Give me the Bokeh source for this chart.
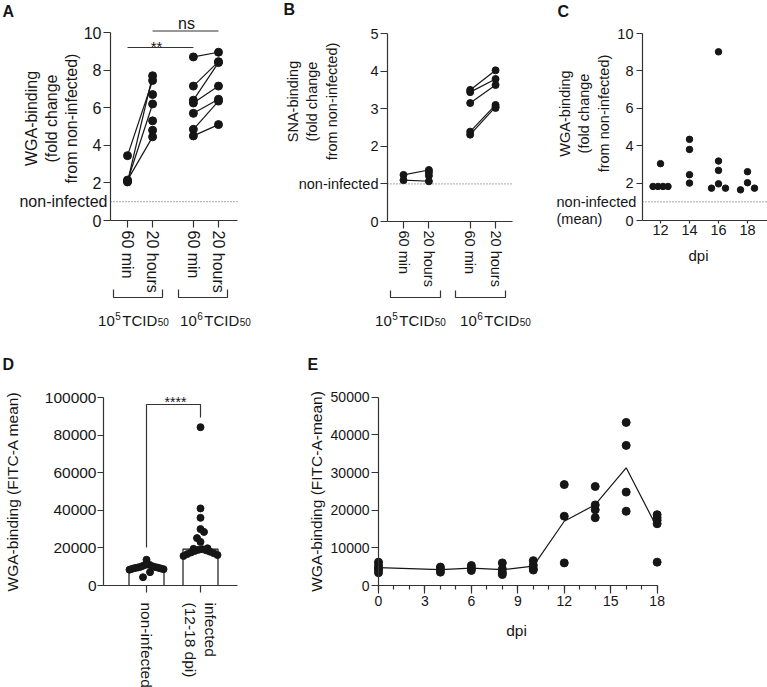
import numpy as np
from bokeh.plotting import figure
from bokeh.layouts import row, column
from bokeh.models import Range1d, Label, FixedTicker, SingleIntervalTicker, BasicTickFormatter
from bokeh.embed import file_html
from bokeh.resources import INLINE

FONT = "Liberation Sans"
INK = "#161616"
AXC = "#333333"
DOT = "#555555"

# ---------------- data ----------------
dose_exponents = ["5", "6"]                       # 10^5 and 10^6 TCID50
doses = [f"10^{e} TCID50" for e in dose_exponents]
times = ["60 min", "20 hours"]

# A: WGA-binding fold change (linked in order; extra values unpaired)
a_lo_60min = [3.45, 2.05, 2.10, 2.15]
a_lo_20h = [7.45, 7.70, 6.20, 4.45, 6.70, 5.30, 4.80]
a_hi_60min = [8.70, 7.15, 6.40, 6.25, 5.70, 4.85, 4.50]
a_hi_20h = [8.95, 8.45, 8.40, 7.15, 6.45, 6.35, 5.10]

# B: SNA-binding fold change
b_lo_60min = [1.24, 1.10]
b_lo_20h = [1.37, 1.07, 1.31, 1.22]
b_hi_60min = [3.50, 3.44, 3.15, 2.39, 2.31]
b_hi_20h = [4.02, 3.79, 3.63, 3.10, 3.05, 3.02]

# C: WGA-binding fold change by dpi
c_dpi = [12, 14, 16, 18]
c_12 = [1.82, 1.82, 1.82, 1.82, 3.04]
c_14 = [4.34, 3.80, 2.45, 2.00]
c_16 = [9.02, 3.18, 2.68, 1.96, 1.73, 1.73]
c_18 = [2.61, 2.02, 1.73, 1.64]

# D: FITC-A mean
d_groups = ["non-infected", "infected\n(12-18 dpi)"]
d_noninf = [13700, 12000, 11000, 10600, 10300, 10000, 9800, 9600, 9500, 9300,
            9100, 8900, 8700, 8400, 7100, 4400]
d_inf = [84200, 41000, 36000, 30000, 28500, 25200, 23200, 19800, 19500, 19300,
         19000, 18700, 18400, 18000, 17600, 17200, 16700, 16200, 15700]

# E: FITC-A mean by dpi
e_dpi = [0, 4, 6, 8, 10, 12, 14, 16, 18]
e_0 = [6200, 5300, 4600, 4200, 3400]
e_4 = [4900, 4250, 3550]
e_6 = [5300, 4600, 4000]
e_8 = [6000, 4400, 3500, 2900]
e_10 = [6600, 5400, 4500, 4100]
e_12 = [26800, 18400, 6000]
e_14 = [26300, 21400, 20100, 18000]
e_16 = [43300, 37200, 24800, 19700]
e_18 = [18800, 18000, 17300, 16400, 6200]

GROUP_GAP = 0.625   # extra space between the two dose groups (in category widths)

# Arial / Liberation Sans advance widths (1/1000 em) for composing sub/superscripts
ADV = {"0": 556, "1": 556, "5": 556, "6": 556, "T": 611, "C": 722, "I": 278, "D": 722}


def text_width(s, fs):
    return sum(ADV[c] for c in s) * fs / 1000.0


# ---------------- helpers ----------------
class Panel:
    """A figure whose frame covers its whole area; (ax, bx) and (cy, dy) map data to page pixels."""

    def __init__(self, X0, X1, Y0, Y1, ax, bx, cy, dy):
        self.ax, self.bx, self.cy, self.dy = ax, bx, cy, dy
        p = figure(width=int(round(X1 - X0)), height=int(round(Y1 - Y0)),
                   x_range=Range1d(self.fx(X0), self.fx(X1)),
                   y_range=Range1d(self.fy(Y1), self.fy(Y0)),
                   output_backend="svg", toolbar_location=None, title=None, min_border=0)
        p.outline_line_color = None
        p.xgrid.visible = False
        p.ygrid.visible = False
        p.border_fill_color = "white"
        p.background_fill_color = "white"
        self.p = p

    def fx(self, r):
        return (r - self.ax) / self.bx

    def fy(self, r):
        return (self.cy - r) / self.dy

    def text(self, rx, ry, text, fs, align="center", baseline="middle", bold=False, angle=0.0, y=None):
        self.p.add_layout(Label(x=self.fx(rx), y=self.fy(ry) if y is None else y, text=text,
                                text_font=FONT, text_font_size=f"{fs}px", text_color=INK,
                                text_align=align, text_baseline=baseline,
                                text_font_style="bold" if bold else "normal", angle=angle))

    def dose_label(self, cx, base, exp, fs=15, fs_small=10):
        w10, wsup = text_width("10", fs), text_width(exp, fs_small)
        wt, wsub = text_width("TCID", fs), text_width("50", fs_small)
        total = w10 + wsup + 2 + wt + 0.5 + wsub
        x = cx - total / 2
        self.text(x, base, "10", fs, align="left", baseline="alphabetic")
        self.text(x + w10 + 0.5, base - 5, exp, fs_small, align="left", baseline="alphabetic")
        x += w10 + wsup + 2
        self.text(x, base, "TCID", fs, align="left", baseline="alphabetic")
        self.text(x + wt + 0.5, base + 1.5, "50", fs_small, align="left", baseline="alphabetic")

    def bracket(self, rx0, rx1, rtop, rbot):
        x0, x1, yt, yb = self.fx(rx0), self.fx(rx1), self.fy(rtop), self.fy(rbot)
        self.p.multi_line(xs=[[x0, x0, x1, x1]], ys=[[yt, yb, yb, yt]],
                          line_color=AXC, line_width=1.2)

    def refline(self, rx0, rx1, yval):
        self.p.segment(x0=[self.fx(rx0)], x1=[self.fx(rx1)], y0=[yval], y1=[yval],
                       line_color=DOT, line_dash="1 2", line_width=1)


def style_axis(ax, fs, tick_out, standoff):
    ax.axis_line_color = AXC
    ax.axis_line_width = 1.2
    ax.major_tick_line_color = AXC
    ax.major_tick_line_width = 1.2
    ax.major_tick_in = 0
    ax.major_tick_out = tick_out
    ax.minor_tick_line_color = None
    ax.major_label_text_font = FONT
    ax.major_label_text_font_size = f"{fs}px"
    ax.major_label_text_color = INK
    ax.major_label_standoff = standoff


def row_dodge(vals, thresh, max_width, step_max):
    vals = np.asarray(vals, dtype=float)
    order = np.argsort(vals, kind="stable")
    rows, cur = [], []
    for i in order:
        if cur and vals[i] - vals[cur[0]] > thresh:
            rows.append(cur)
            cur = []
        cur.append(i)
    if cur:
        rows.append(cur)
    offs = np.zeros(len(vals))
    for r in rows:
        n = len(r)
        if n == 1:
            continue
        step = min(step_max, max_width / (n - 1))
        r_sorted = sorted(r, key=lambda i: -vals[i])
        if n % 2 == 1:
            slots = [0.0] + [s for k in range(1, n // 2 + 1) for s in (k, -k)]
        else:
            slots = [s for k in range(n // 2) for s in (k + 0.5, -(k + 0.5))]
        for i, s in zip(r_sorted, slots):
            offs[i] = s * step
    return offs


# category positions for panels A/B: time index within dose, doses separated by a gap
cat_pos = {(d, t): it + idd * (len(times) + GROUP_GAP)
           for idd, d in enumerate(doses) for it, t in enumerate(times)}


def paired(p, dose, v60, v20, size):
    x60, x20 = cat_pos[(dose, times[0])], cat_pos[(dose, times[1])]
    n = min(len(v60), len(v20))
    p.segment(x0=[x60] * n, y0=v60[:n], x1=[x20] * n, y1=v20[:n], line_color=INK, line_width=1.2)
    p.scatter(x=[x60] * len(v60), y=v60, size=size, fill_color=INK, line_color=INK)
    p.scatter(x=[x20] * len(v20), y=v20, size=size, fill_color=INK, line_color=INK)


def category_xaxis(P, fs, tick_out, standoff, rl, rr):
    p = P.p
    p.xaxis.fixed_location = 0
    p.xaxis.bounds = (P.fx(rl), P.fx(rr))
    p.xaxis.ticker = FixedTicker(ticks=list(cat_pos.values()))
    p.xaxis.major_label_overrides = {v: k[1] for k, v in cat_pos.items()}
    p.xaxis.major_label_orientation = "vertical"
    style_axis(p.xaxis, fs, tick_out, standoff)


# ---------------- Panel A ----------------
A = Panel(0, 253, 0, 333, ax=127, bx=25.1, cy=220, dy=18.8)
pA = A.p
pA.yaxis.fixed_location = A.fx(110)
pA.yaxis.bounds = (0, 10)
pA.yaxis.ticker = FixedTicker(ticks=[0, 2, 4, 6, 8, 10])
style_axis(pA.yaxis, 16, 7, 2)
category_xaxis(A, 16, 7, 3, 110, 237)
A.refline(110, 237, 1)
paired(pA, doses[0], a_lo_60min, a_lo_20h, 8)
paired(pA, doses[1], a_hi_60min, a_hi_20h, 8)
pA.segment(x0=[cat_pos[(doses[0], times[0])]], x1=[cat_pos[(doses[1], times[0])]],
           y0=[A.fy(47)], y1=[A.fy(47)], line_color=AXC, line_width=1.2)
pA.segment(x0=[cat_pos[(doses[0], times[1])]], x1=[cat_pos[(doses[1], times[1])]],
           y0=[A.fy(30.5)], y1=[A.fy(30.5)], line_color=AXC, line_width=1.2)
A.text(156, 46, "**", 15, baseline="alphabetic")
A.text(186, 23, "ns", 16, baseline="alphabetic")
A.text(107, None, "non-infected", 16, align="right", y=1)
A.text(51, 118, "WGA-binding\n(fold change\nfrom non-infected)", 16, angle=np.pi / 2)
A.bracket(113, 162, 289, 297)
A.bracket(178, 227, 289, 297)
A.dose_label(133, 320, dose_exponents[0])
A.dose_label(215, 320, dose_exponents[1])
A.text(2, 2, "A", 16, align="left", baseline="top", bold=True)

# ---------------- Panel B ----------------
B = Panel(253, 535, 0, 333, ax=403, bx=25.4, cy=221, dy=37.6)
pB = B.p
pB.yaxis.fixed_location = B.fx(387)
pB.yaxis.bounds = (0, 5)
pB.yaxis.ticker = FixedTicker(ticks=[0, 1, 2, 3, 4, 5])
pB.yaxis.major_label_overrides = {1: "non-infected"}
style_axis(pB.yaxis, 14.5, 7, 2)
category_xaxis(B, 14.5, 7, 2, 387, 512)
B.refline(387, 512, 1)
paired(pB, doses[0], b_lo_60min, b_lo_20h, 7)
paired(pB, doses[1], b_hi_60min, b_hi_20h, 7)
B.text(312, 101, "SNA-binding\n(fold change\nfrom non-infected)", 14.5, angle=np.pi / 2)
B.bracket(390, 440, 290, 297)
B.bracket(455, 505, 290, 297)
B.dose_label(410, 320, dose_exponents[0])
B.dose_label(495, 320, dose_exponents[1])
B.text(283, 0, "B", 16, align="left", baseline="top", bold=True)

# ---------------- Panel C ----------------
C = Panel(535, 767, 0, 333, ax=486, bx=14.5, cy=220, dy=18.7)
pC = C.p
pC.yaxis.fixed_location = C.fx(642)
pC.yaxis.bounds = (0, 10)
pC.yaxis.ticker = FixedTicker(ticks=[0, 2, 4, 6, 8, 10])
style_axis(pC.yaxis, 14.5, 6, 3)
pC.xaxis.fixed_location = 0
pC.xaxis.bounds = (C.fx(642), C.fx(767))
pC.xaxis.ticker = FixedTicker(ticks=c_dpi)
style_axis(pC.xaxis, 14.5, 3, 1)
C.refline(642, 767, 1)
for d, vals in zip(c_dpi, [c_12, c_14, c_16, c_18]):
    offs = row_dodge(vals, 0.40, 15, 7) / C.bx
    pC.scatter(x=list(d + offs), y=vals, size=6.5, fill_color=INK, line_color=INK)
C.text(556, None, "non-infected", 14.5, align="left", y=1)
C.text(556, 218, "(mean)", 14.5, align="left")
C.text(584, 113, "WGA-binding\n(fold change\nfrom non-infected)", 14.5, angle=np.pi / 2)
C.text(698, 255, "dpi", 15)
C.text(557, 2, "C", 16, align="left", baseline="top", bold=True)

# ---------------- Panel D ----------------
D = Panel(0, 240, 333, 687, ax=146, bx=54.0, cy=585, dy=188 / 100000)
pD = D.p
pD.yaxis.fixed_location = D.fx(103)
pD.yaxis.bounds = (0, 100000)
pD.yaxis.ticker = FixedTicker(ticks=[0, 20000, 40000, 60000, 80000, 100000])
pD.yaxis.formatter = BasicTickFormatter(use_scientific=False)
style_axis(pD.yaxis, 15.5, 6, 1)
pD.xaxis.fixed_location = 0
pD.xaxis.bounds = (D.fx(103), D.fx(237))
pD.xaxis.ticker = FixedTicker(ticks=list(range(len(d_groups))))
pD.xaxis.major_label_overrides = {i: g for i, g in enumerate(d_groups)}
pD.xaxis.major_label_orientation = "vertical"
style_axis(pD.xaxis, 15.5, 7, 10)
d_sets = [d_noninf, d_inf]
pD.vbar(x=list(range(len(d_groups))), top=[float(np.median(v)) for v in d_sets],
        width=35 / D.bx, fill_color="white", line_color=INK, line_width=1.2)
for i, vals in enumerate(d_sets):
    offs = row_dodge(vals, 7 / D.dy, 34, 7) / D.bx
    pD.scatter(x=list(i + offs), y=vals, size=7, fill_color=INK, line_color=INK)
pD.multi_line(xs=[[0, 0, 1, 1]], ys=[[D.fy(547), D.fy(404), D.fy(404), D.fy(417)]],
              line_color=AXC, line_width=1.2)
D.text(175, 401, "****", 14, baseline="alphabetic")
D.text(12, 491, "WGA-binding (FITC-A mean)", 15.5, angle=np.pi / 2)
D.text(2, 355, "D", 16, align="left", baseline="top", bold=True)

# ---------------- Panel E ----------------
E = Panel(240, 767, 333, 687, ax=378, bx=15.48, cy=585, dy=188.3 / 50000)
pE = E.p
pE.yaxis.fixed_location = 0
pE.yaxis.bounds = (0, 50000)
pE.yaxis.ticker = FixedTicker(ticks=[0, 10000, 20000, 30000, 40000, 50000])
pE.yaxis.formatter = BasicTickFormatter(use_scientific=False)
style_axis(pE.yaxis, 14, 7, 2)
pE.xaxis.fixed_location = 0
pE.xaxis.bounds = (0, 18)
pE.xaxis.ticker = SingleIntervalTicker(interval=3, num_minor_ticks=3)
style_axis(pE.xaxis, 14, 8, 2)
pE.xaxis.minor_tick_line_color = AXC
pE.xaxis.minor_tick_line_width = 1.2
pE.xaxis.minor_tick_in = 0
pE.xaxis.minor_tick_out = 4
e_sets = [e_0, e_4, e_6, e_8, e_10, e_12, e_14, e_16, e_18]
pE.line(x=e_dpi, y=[float(np.mean(v)) for v in e_sets], line_color=INK, line_width=1.2)
for d, vals in zip(e_dpi, e_sets):
    pE.scatter(x=[d] * len(vals), y=vals, size=8, fill_color=INK, line_color=INK)
E.text(316, 491, "WGA-binding (FITC-A-mean)", 15.5, angle=np.pi / 2)
E.text(516, 630, "dpi", 15.5)
E.text(307, 355, "E", 16, align="left", baseline="top", bold=True)

layout = column(row(pA, pB, pC), row(pD, pE))
open("out.html", "w").write(file_html(layout, INLINE))
